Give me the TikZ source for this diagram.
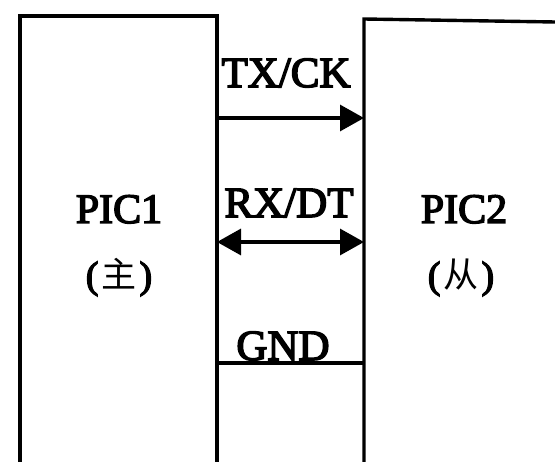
\documentclass[tikz,border=0pt]{standalone}
\usepackage{fontspec}
\setmainfont{Liberation Serif}
\newfontfamily\heavy{Liberation Serif}[RawFeature={embolden=3.5}]
\newfontfamily\cjk{Noto Sans CJK SC}
\usetikzlibrary{arrows.meta}
\begin{document}
\begin{tikzpicture}[x=1pt,y=-1pt,
  wire/.style={line width=3.2pt},
  edge/.style={line width=3.4pt},
  lbl/.style={font=\heavy\fontsize{42}{46}\selectfont, inner sep=0pt, anchor=base},
  sig/.style={font=\heavy\fontsize{43}{47}\selectfont, inner sep=0pt, anchor=base},
  sub/.style={font=\heavy\fontsize{38}{42}\selectfont, inner sep=0pt, anchor=base}]
  \useasboundingbox (0,0) rectangle (555,462);

  % master unit (open at the bottom)
  \coordinate (m-bl) at (20,462);
  \coordinate (m-tl) at (20,16);
  \coordinate (m-tr) at (217,16);
  \coordinate (m-br) at (217,462);
  \draw[edge] (m-bl) -- (m-tl) -- (m-tr) -- (m-br);

  % slave unit (continues past the right side)
  \coordinate (s-bl) at (364,462);
  \coordinate (s-tl) at (364,19);
  \coordinate (s-tr) at (555,22);
  \draw[edge] (s-bl) -- (s-tl) -- (s-tr);

  % unit names
  \node[lbl] (pic1) at (119,223) {PIC1};
  \node[sub] (pic1r) at (119,288) {(\kern3pt{\cjk\fontsize{35}{40}\selectfont 主}\kern3pt)};
  \node[lbl] (pic2) at (464,223) {PIC2};
  \node[sub] (pic2r) at (461,288) {(\kern3pt{\cjk\fontsize{35}{40}\selectfont 从}\kern3pt)};

  % signal lines between the two units
  \coordinate (tx-a) at (217,118);
  \coordinate (tx-b) at (364,118);
  \coordinate (rx-a) at (217,242);
  \coordinate (rx-b) at (364,242);
  \coordinate (gnd-a) at (217,363);
  \coordinate (gnd-b) at (364,363);

  \draw[wire,-{Triangle[length=24pt,width=26pt]}] (tx-a) -- (tx-b);
  \draw[wire,{Triangle[length=24pt,width=26pt]}-{Triangle[length=24pt,width=26pt]}] (rx-a) -- (rx-b);
  \draw[wire] (gnd-a) -- (gnd-b);

  % signal names
  \node[sig] (txl) at (286,87) {TX/CK};
  \node[sig] (rxl) at (289,217) {RX/DT};
  \node[sig] (gndl) at (283,360) {GND};
\end{tikzpicture}
\end{document}
